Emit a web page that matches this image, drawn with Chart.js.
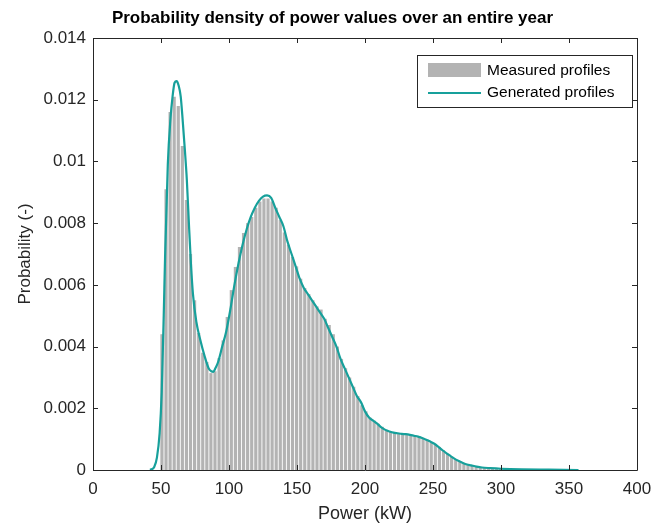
<!DOCTYPE html>
<html>
<head>
<meta charset="utf-8">
<script src="https://cdn.jsdelivr.net/npm/chart.js@4/dist/chart.umd.min.js"></script>
<style>
  html, body { margin: 0; padding: 0; background: #fff; }
  #wrap { width: 655px; height: 525px; }
</style>
</head>
<body>
<div id="wrap"><canvas id="pdfChart" width="655" height="525"></canvas></div>
<script>
// histogram of measured profiles: bins of 3 kW, first bin centred at 50.7 kW
const binStart = 50.7;
const binWidth = 3;
const measured = [
  0.0044, 0.0091, 0.0116, 0.0121, 0.0118, 0.0105, 0.00875, 0.0070, 0.0055, 0.00444,
  0.0038, 0.0035, 0.00314, 0.0032, 0.00363, 0.0042, 0.00496, 0.00583, 0.00658, 0.00723,
  0.00768, 0.0080, 0.0082, 0.0085, 0.0087, 0.0088, 0.0088, 0.0087, 0.0085, 0.0081,
  0.0077, 0.0073, 0.0069, 0.0066, 0.0062, 0.0059, 0.0057, 0.0055, 0.0053, 0.0052,
  0.0049, 0.0047, 0.0044, 0.0040, 0.0036, 0.0033, 0.0030, 0.0027, 0.0024, 0.0021,
  0.0019, 0.0017, 0.0016, 0.0015, 0.0014, 0.0013, 0.00125, 0.0012, 0.0012, 0.00118,
  0.00116, 0.00114, 0.00112, 0.0011, 0.00104, 0.00098, 0.0009, 0.00084, 0.00075, 0.00064,
  0.00053, 0.00043, 0.00035, 0.00028, 0.00022, 0.00017, 0.00014, 0.00011, 0.00009, 0.00007,
  0.00006, 0.00005, 0.00004, 0.00003, 0.00002
];

// generated profiles (smooth density curve)
const genX = [42, 45, 47, 49, 50.5, 52, 53, 55, 57, 58.5, 60, 61.5, 63, 64.5, 66, 67.5, 69, 70.5, 72, 73.5,
  76, 79, 82, 85, 87, 88.5, 90, 92, 95, 98, 101, 104, 107, 110, 113, 116, 119, 122, 125, 128,
  131, 134, 137, 140, 143, 146, 149, 152, 155, 158, 161, 164, 167, 170, 173, 176, 179, 182, 185, 188,
  191, 194, 197, 200, 203, 206, 209, 212, 215, 218, 221, 224, 227, 230, 233, 236, 239, 242, 245, 248,
  251, 254, 257, 260, 263, 266, 269, 272, 275, 278, 282, 286, 292, 300, 315, 335, 357];
const genY = [0, 0.0001, 0.0004, 0.0012, 0.0025, 0.0050, 0.0069, 0.0099, 0.0114, 0.0121, 0.01255, 0.0126, 0.01245, 0.0121, 0.0113, 0.0104, 0.0094, 0.0080, 0.0067, 0.0057,
  0.0048, 0.0042, 0.0037, 0.0033, 0.0032, 0.00318, 0.0033, 0.0035, 0.0040, 0.0045, 0.0052, 0.0060, 0.0067, 0.0073, 0.0078, 0.0082, 0.0085, 0.00872, 0.00886, 0.0089,
  0.00882, 0.0085, 0.0082, 0.0079, 0.0074, 0.0070, 0.0066, 0.0062, 0.0059, 0.0057, 0.0055, 0.0053, 0.0051, 0.0049, 0.0046, 0.0043, 0.0040, 0.0036, 0.0033, 0.0030,
  0.0027, 0.0024, 0.0022, 0.0019, 0.0017, 0.0016, 0.0015, 0.00138, 0.0013, 0.00125, 0.00121, 0.00119, 0.00117, 0.00116, 0.00114, 0.00111, 0.00108, 0.00104, 0.00098, 0.00092,
  0.00085, 0.00075, 0.00064, 0.00054, 0.00045, 0.00036, 0.00029, 0.00023, 0.00018, 0.00015, 0.00011, 0.00008, 0.00006, 0.00004, 0.00002, 0.00001, 0];

const xTicks = [0, 50, 100, 150, 200, 250, 300, 350, 400];
const yTicks = [0, 0.002, 0.004, 0.006, 0.008, 0.01, 0.012, 0.014];
const yTickLabels = ['0', '0.002', '0.004', '0.006', '0.008', '0.01', '0.012', '0.014'];

const barColor = '#b3b3b3';
const lineColor = '#17a09b';
const axisColor = '#262626';
const fontFamily = '"Liberation Sans", Arial, Helvetica, sans-serif';

const barData = measured.map((v, i) => ({ x: binStart + i * binWidth, y: v }));
const lineData = genX.map((x, i) => ({ x: x, y: genY[i] }));

// MATLAB-like box with inward ticks on all sides, plus the boxed legend
const boxPlugin = {
  id: 'matlabBox',
  afterDatasetsDraw(chart) {
    const { ctx, chartArea: a, scales } = chart;
    ctx.save();
    ctx.strokeStyle = axisColor;
    ctx.lineWidth = 1;
    ctx.beginPath();
    ctx.rect(Math.round(a.left) + 0.5, Math.round(a.top) + 0.5,
      Math.round(a.right - a.left), Math.round(a.bottom - a.top));
    const tl = 5;
    xTicks.forEach(v => {
      const px = Math.round(scales.x.getPixelForValue(v)) + 0.5;
      ctx.moveTo(px, a.bottom); ctx.lineTo(px, a.bottom - tl);
      ctx.moveTo(px, a.top); ctx.lineTo(px, a.top + tl);
    });
    yTicks.forEach(v => {
      const py = Math.round(scales.y.getPixelForValue(v)) + 0.5;
      ctx.moveTo(a.left, py); ctx.lineTo(a.left + tl, py);
      ctx.moveTo(a.right, py); ctx.lineTo(a.right - tl, py);
    });
    ctx.stroke();
    ctx.restore();
  },
  afterDraw(chart) {
    const { ctx } = chart;
    const ds = chart.data.datasets;
    const bx = 417, by = 55, bw = 215, bh = 52;
    ctx.save();
    ctx.fillStyle = '#fff';
    ctx.fillRect(bx, by, bw, bh);
    ctx.strokeStyle = axisColor;
    ctx.lineWidth = 1;
    ctx.strokeRect(bx + 0.5, by + 0.5, bw, bh);
    ctx.font = '15.5px ' + fontFamily;
    ctx.textBaseline = 'middle';
    ctx.fillStyle = barColor;
    ctx.fillRect(428, 63, 53, 14);
    ctx.fillStyle = '#000';
    ctx.fillText(ds[1].label, 487, 71);
    ctx.strokeStyle = lineColor;
    ctx.lineWidth = 2;
    ctx.beginPath();
    ctx.moveTo(428, 93); ctx.lineTo(481, 93);
    ctx.stroke();
    ctx.fillText(ds[0].label, 487, 93);
    ctx.restore();
  }
};

new Chart(document.getElementById('pdfChart'), {
  data: {
    datasets: [
      {
        type: 'line',
        label: 'Generated profiles',
        data: lineData,
        borderColor: lineColor,
        borderWidth: 2.2,
        pointRadius: 0,
        cubicInterpolationMode: 'monotone',
        fill: false,
        order: 0
      },
      {
        type: 'bar',
        label: 'Measured profiles',
        data: barData,
        backgroundColor: barColor,
        borderWidth: 0,
        barPercentage: 0.78,
        categoryPercentage: 1,
        order: 1
      }
    ]
  },
  options: {
    responsive: false,
    animation: false,
    devicePixelRatio: 1,
    layout: { padding: { left: 28, right: 18, top: 0, bottom: 0 } },
    plugins: {
      legend: { display: false },
      tooltip: { enabled: false },
      title: {
        display: true,
        text: 'Probability density of power values over an entire year',
        color: '#000',
        font: { family: fontFamily, size: 17, weight: 'bold' },
        padding: { top: 8, bottom: 9.6 }
      }
    },
    scales: {
      x: {
        type: 'linear',
        offset: false,
        min: 0,
        max: 400,
        grid: { display: false, drawTicks: false, offset: false },
        border: { display: false },
        afterFit(s) { s.height = 55; s.paddingLeft = 0; s.paddingRight = 0; },
        afterBuildTicks(s) { s.ticks = xTicks.map(v => ({ value: v })); },
        ticks: {
          color: axisColor,
          padding: 9,
          maxRotation: 0,
          font: { family: fontFamily, size: 17 },
          callback: v => String(v)
        },
        title: {
          display: true,
          text: 'Power (kW)',
          color: axisColor,
          font: { family: fontFamily, size: 18 },
          padding: { top: 0, bottom: 0 }
        }
      },
      y: {
        min: 0,
        max: 0.014,
        grid: { display: false, drawTicks: false },
        border: { display: false },
        afterFit(s) { s.width = 65; },
        afterBuildTicks(s) { s.ticks = yTicks.map(v => ({ value: v })); },
        ticks: {
          color: axisColor,
          padding: 7,
          font: { family: fontFamily, size: 17 },
          callback: (v, i) => yTickLabels[i]
        },
        title: {
          display: true,
          text: 'Probability (-)',
          color: axisColor,
          font: { family: fontFamily, size: 17 },
          padding: { top: -13, bottom: 0 }
        }
      }
    }
  },
  plugins: [boxPlugin]
});
</script>
</body>
</html>
